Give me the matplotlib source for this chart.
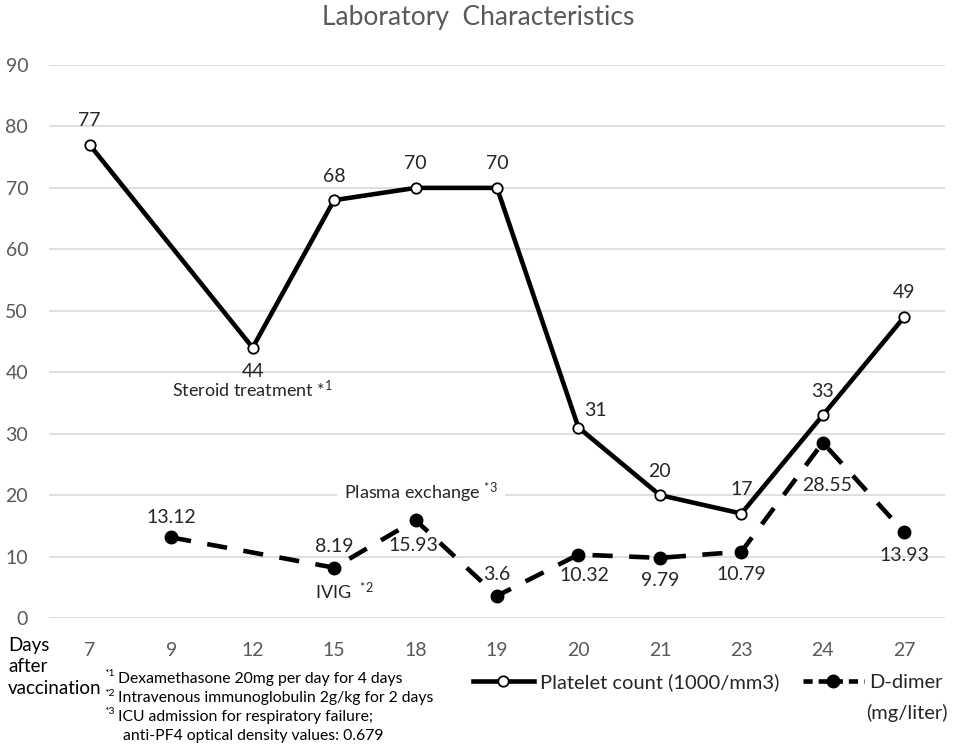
import numpy as np
import matplotlib.pyplot as plt
from matplotlib.lines import Line2D

plt.rcParams['font.family'] = ['Lato', 'DejaVu Sans']
plt.rcParams['mathtext.fontset'] = 'custom'
plt.rcParams['mathtext.rm'] = 'Lato'
plt.rcParams['mathtext.it'] = 'Lato'
plt.rcParams['mathtext.bf'] = 'Lato'

# 数据
days = ['7', '9', '12', '15', '18', '19', '20', '21', '23', '24', '27']
platelet = [77, None, 44, 68, 70, 70, 31, 20, 17, 33, 49]
ddimer = [None, 13.12, None, 8.19, 15.93, 3.6, 10.32, 9.79, 10.79, 28.55, 13.93]
ddimer_text = ['', '13.12', '', '8.19', '15.93', '3.6', '10.32', '9.79', '10.79', '28.55', '13.93']

W, H = 957, 750
LBL = '#262626'


def px(x, y):
    # 像素坐标转换为figure坐标
    return x / W, 1 - y / H


fig = plt.figure(figsize=(W / 100, H / 100), dpi=100, facecolor='white')
ax = fig.add_axes([49 / W, 1 - 618 / H, (945 - 49) / W, (618 - 65) / H])

for s in ax.spines.values():
    s.set_visible(False)
ax.set_ylim(0, 90)
ax.set_xlim(-0.5, len(days) - 0.5)
ax.set_yticks(range(0, 91, 10))
ax.set_xticks(range(len(days)))
ax.set_xticklabels(days)
ax.tick_params(axis='both', length=0, labelsize=14, labelcolor='#595959')
ax.tick_params(axis='x', pad=17)
ax.tick_params(axis='y', pad=15)
ax.grid(axis='y', color='#d9d9d9', linewidth=1.2)
ax.set_axisbelow(True)

# 血小板
px_idx = [i for i, v in enumerate(platelet) if v is not None]
pv = [platelet[i] for i in px_idx]
ax.plot(px_idx, pv, color='black', linewidth=3.3, marker='o', markersize=7.5,
        markerfacecolor='white', markeredgecolor='black', markeredgewidth=1.3,
        zorder=4, clip_on=False)

# D-dimer
dx_idx = [i for i, v in enumerate(ddimer) if v is not None]
dv = [ddimer[i] for i in dx_idx]
ax.plot(dx_idx, dv, color='black', linewidth=3.3, dashes=[4.4, 3.6], marker='o',
        markersize=9, markerfacecolor='black', markeredgecolor='black',
        zorder=3, clip_on=False)

# 数据标签 (像素偏移)
p_off = {44: (0, -24), 31: (17, 17)}
for i, v in zip(px_idx, pv):
    dxo, dyo = p_off.get(v, (0, 24))
    ax.annotate(str(v), (i, v), xytext=(dxo * 0.72, dyo * 0.72), textcoords='offset points',
                ha='center', va='center', fontsize=14, color=LBL, zorder=6)

d_off = {'13.12': (0, 20), '8.19': (0, 21), '3.6': (0, 21), '10.32': (6, -21),
         '28.55': (4, -43), '15.93': (-2, -25)}
for i in dx_idx:
    t = ddimer_text[i]
    dxo, dyo = d_off.get(t, (0, -23))
    ax.annotate(t, (i, ddimer[i]), xytext=(dxo * 0.72, dyo * 0.72),
                textcoords='offset points', ha='center', va='center',
                fontsize=14, color=LBL, zorder=6)

# 标题
fig.text(*px(478, 18), 'Laboratory  Characteristics', ha='center', va='center',
         fontsize=19, color='#595959')

# 注释
fig.text(*px(172, 390), r'Steroid treatment *$^{1}$', ha='left', va='center',
         fontsize=13, color=LBL)
fig.text(*px(344, 493), r'Plasma exchange $^{*3}$', ha='left', va='center', fontsize=13,
         color=LBL, bbox=dict(facecolor='white', edgecolor='none', pad=5), zorder=5)
fig.text(*px(315, 592), r'IVIG  $^{*2}$', ha='left', va='center', fontsize=13, color=LBL)

# 横轴标题
for txt, yy in [('Days', 645), ('after', 666), ('vaccination', 688)]:
    fig.text(*px(8, yy), txt, ha='left', va='center', fontsize=13.5, color='#000000')

# 脚注
notes = [
    ('*1', 'Dexamethasone 20mg per day for 4 days', 679),
    ('*2', 'Intravenous immunoglobulin 2g/kg for 2 days', 698),
    ('*3', 'ICU admission for respiratory failure;', 717),
]
for sup, txt, yy in notes:
    fig.text(*px(104, yy - 5), sup, ha='left', va='center', fontsize=7.5, color='#000000')
    fig.text(*px(118, yy), txt, ha='left', va='center', fontsize=11.3, color='#000000')
fig.text(*px(123, 736), 'anti-PF4 optical density values: 0.679', ha='left', va='center',
         fontsize=11.3, color='#000000')

# 图例
h1 = Line2D([], [], color='black', linewidth=3.3, marker='o', markersize=7.5,
            markerfacecolor='white', markeredgewidth=1.3)
h2 = Line2D([], [], color='black', linewidth=3.3, dashes=[2.0, 1.3], marker='o',
            markersize=9, markerfacecolor='black')
fig.legend([h1, h2], ['Platelet count (1000/mm3)', 'D-dimer'], loc='center left',
           bbox_to_anchor=px(455, 682), ncol=2, frameon=False, fontsize=14.5,
           handlelength=3.0, handletextpad=0.3, columnspacing=1.2,
           labelcolor=LBL)
fig.text(*px(866, 713), '(mg/liter)', ha='left', va='center', fontsize=14.5, color=LBL)

plt.savefig('out.png', facecolor=fig.get_facecolor())
plt.close()
